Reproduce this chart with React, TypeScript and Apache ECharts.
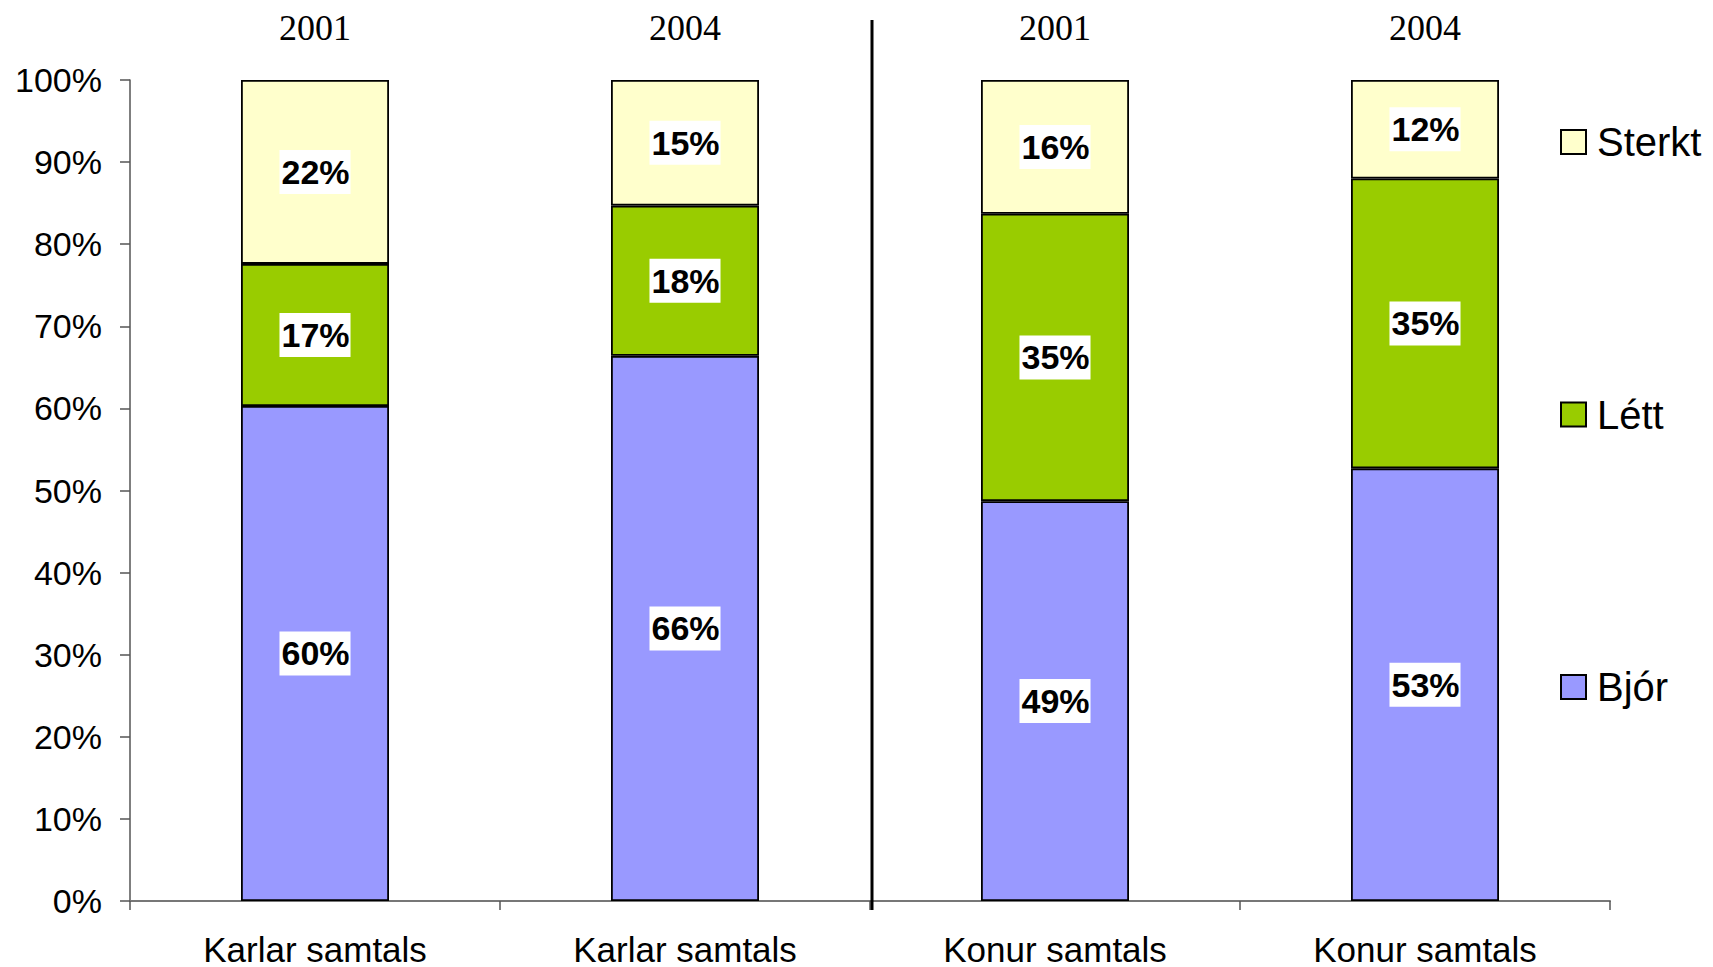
import React, { useEffect, useRef } from "react";
import * as echarts from "echarts";

const categories = ["Karlar samtals", "Karlar samtals", "Konur samtals", "Konur samtals"];
const years = ["2001", "2004", "2001", "2004"];
const bjor = [60.3, 66.4, 48.7, 52.7];
const lett = [17.3, 18.3, 35.0, 35.3];
const sterkt = [22.4, 15.3, 16.3, 12.0];
const yTicks = { min: 0, max: 100, interval: 10 };

const SANS = "'Liberation Sans', Arial, sans-serif";
const SERIF = "'Liberation Serif', 'Times New Roman', serif";

export default function App() {
  const ref = useRef<HTMLDivElement>(null);
  useEffect(() => {
    if (!ref.current) return;
    const chart = echarts.init(ref.current, undefined, { renderer: "svg" });
    const label = {
      show: true,
      position: "inside",
      formatter: (p: any) => Math.round(p.value) + "%",
      fontFamily: SANS,
      fontWeight: "bold",
      fontSize: 34,
      lineHeight: 38,
      color: "#000",
      backgroundColor: "#fff",
      padding: [3, 1, 3, 2],
    };
    const mk = (name: string, data: number[], color: string) => ({
      name,
      type: "bar",
      stack: "total",
      data,
      barWidth: "40%",
      itemStyle: { color, borderColor: "#000", borderWidth: 1.8 },
      label,
      emphasis: { disabled: true },
    });
    chart.setOption({
      animation: false,
      backgroundColor: "#fff",
      grid: { left: 130, right: 103, top: 80, bottom: 66, containLabel: false },
      legend: {
        orient: "vertical",
        left: 1560,
        top: 122,
        padding: 0,
        itemWidth: 25,
        itemHeight: 24,
        itemGap: 232.5,
        icon: "rect",
        data: ["Sterkt", "Létt", "Bjór"],
        itemStyle: { borderColor: "#000", borderWidth: 2 },
        textStyle: {
          fontFamily: SANS,
          fontSize: 40,
          lineHeight: 40,
          color: "#000",
          padding: [0, 0, 0, 6],
        },
        selectedMode: false,
      },
      xAxis: [
        {
          type: "category",
          data: categories,
          position: "bottom",
          axisLine: { show: true, lineStyle: { color: "#777", width: 2 } },
          axisTick: { show: true, length: 9, lineStyle: { color: "#555", width: 1.5 } },
          axisLabel: {
            fontFamily: SANS,
            fontSize: 35,
            lineHeight: 34,
            color: "#000",
            margin: 31,
            interval: 0,
          },
        },
        {
          type: "category",
          data: years,
          position: "top",
          axisLine: { show: false },
          axisTick: { show: false },
          axisLabel: { fontFamily: SERIF, fontSize: 36, color: "#000", margin: 34, interval: 0 },
        },
      ],
      yAxis: {
        type: "value",
        min: yTicks.min,
        max: yTicks.max,
        interval: yTicks.interval,
        splitLine: { show: false },
        axisLine: { show: true, lineStyle: { color: "#555", width: 1.5 } },
        axisTick: { show: true, length: 10, lineStyle: { color: "#555", width: 1.5 } },
        axisLabel: {
          formatter: "{value}%",
          fontFamily: SANS,
          fontSize: 34,
          color: "#000",
          margin: 28,
        },
      },
      series: [
        mk("Bjór", bjor, "#9999FF"),
        mk("Létt", lett, "#99CC00"),
        mk("Sterkt", sterkt, "#FFFFCC"),
      ],
    });
    const x1 = chart.convertToPixel({ xAxisIndex: 0 }, 1) as number;
    const x2 = chart.convertToPixel({ xAxisIndex: 0 }, 2) as number;
    const sx = (x1 + x2) / 2 + 2;
    chart.setOption({
      graphic: [
        {
          type: "line",
          shape: { x1: sx, y1: 20, x2: sx, y2: 910 },
          style: { stroke: "#000", lineWidth: 3 },
          z: 100,
        },
      ],
    });
    return () => chart.dispose();
  }, []);
  return (
    <div
      ref={ref}
      style={{ position: "fixed", left: 0, top: 0, width: 1713, height: 967, background: "#fff" }}
    />
  );
}
